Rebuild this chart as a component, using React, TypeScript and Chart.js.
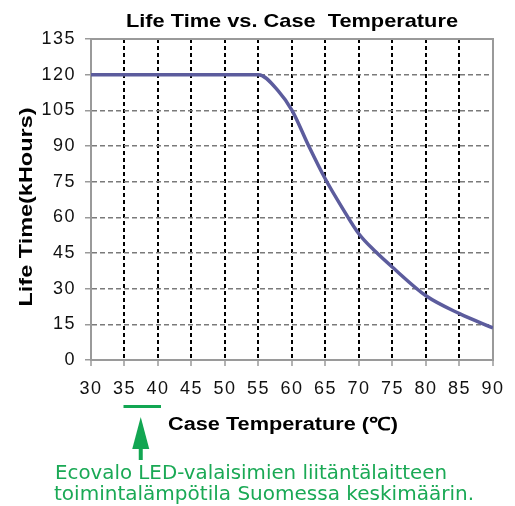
import React, { useEffect, useRef } from "react";
import { Chart, registerables } from "chart.js";

Chart.register(...registerables);

// ---- data ----
const temperatures = [30, 35, 40, 45, 50, 55, 58, 60, 62.5, 65, 67.5, 70, 72.5, 75, 80, 85, 90];
const lifeKHours = [120, 120, 120, 120, 120, 120, 113, 105, 90, 76, 64, 53, 45.5, 39, 27, 19.5, 13.5];
const xTickStep = 5;
const xRange = [30, 90];
const yTickStep = 15;
const yRange = [0, 135];
const chartTitle = "Life Time vs. Case  Temperature";
const yAxisTitle = "Life Time(kHours)";
const xAxisTitle = "Case Temperature (\u2103)";
const highlightRange = [35, 40];
const noteLines = [
  "Ecovalo LED-valaisimien liitäntälaitteen",
  "toimintalämpötila Suomessa keskimäärin.",
];

const FONT = "Liberation Sans, Arial, sans-serif";
const GREEN = "#12a652";
const TEXT_GREEN = "#1aa955";

function drawScaledText(
  ctx: CanvasRenderingContext2D,
  text: string,
  font: string,
  color: string,
  x: number,
  y: number,
  targetWidth: number,
  align: "left" | "center",
  rotate = false
) {
  ctx.save();
  ctx.font = font;
  ctx.fillStyle = color;
  ctx.textBaseline = "alphabetic";
  ctx.textAlign = "left";
  const w = ctx.measureText(text).width;
  const s = targetWidth / w;
  ctx.translate(x, y);
  if (rotate) ctx.rotate(-Math.PI / 2);
  ctx.scale(s, 1);
  const startX = align === "center" ? -w / 2 : 0;
  ctx.fillText(text, startX, 0);
  ctx.restore();
}

const decorPlugin = {
  id: "decor",
  beforeDraw(chart: any) {
    chart.ctx.letterSpacing = "1.5px";
  },
  beforeDatasetsDraw(chart: any) {
    const { ctx, chartArea } = chart;
    ctx.save();
    ctx.strokeStyle = "#9a9a9a";
    ctx.lineWidth = 2;
    ctx.strokeRect(chartArea.left, chartArea.top, chartArea.right - chartArea.left, chartArea.bottom - chartArea.top);
    ctx.restore();
  },
  afterDraw(chart: any) {
    const { ctx, chartArea } = chart;
    const xs = chart.scales.x;
    ctx.save();
    ctx.letterSpacing = "0px";
    const cx = (chartArea.left + chartArea.right) / 2;
    // title
    drawScaledText(ctx, chartTitle, `bold 19px ${FONT}`, "#000", cx, 27, 332, "center");
    // y axis title
    drawScaledText(ctx, yAxisTitle, `bold 19px ${FONT}`, "#000", 32, 207, 199, "center", true);
    // x axis title
    drawScaledText(ctx, xAxisTitle, `bold 18px ${FONT}`, "#000", 283, 429.5, 230, "center");

    // highlight bar under 35-40
    const x1 = xs.getPixelForValue(highlightRange[0]) - 1;
    const x2 = xs.getPixelForValue(highlightRange[1]) + 3;
    ctx.fillStyle = GREEN;
    ctx.fillRect(x1, 405, x2 - x1, 3);
    // arrow
    const ax = (x1 + x2) / 2 - 1.5;
    ctx.beginPath();
    ctx.moveTo(ax, 417);
    ctx.lineTo(ax + 8.5, 449);
    ctx.lineTo(ax - 8.5, 449);
    ctx.closePath();
    ctx.fill();
    ctx.fillRect(ax - 2, 448, 4, 12);

    // note text
    drawScaledText(ctx, noteLines[0], `19px 'DejaVu Sans', sans-serif`, TEXT_GREEN, 55, 478.5, 392, "left");
    drawScaledText(ctx, noteLines[1], `19px 'DejaVu Sans', sans-serif`, TEXT_GREEN, 54, 500, 420, "left");
    ctx.restore();
  },
};

function LifeChart() {
  const ref = useRef<HTMLCanvasElement | null>(null);
  useEffect(() => {
    if (!ref.current) return;
    const points = temperatures.map((t, i) => ({ x: t, y: lifeKHours[i] }));
    const chart = new Chart(ref.current, {
      type: "line",
      data: {
        datasets: [
          {
            data: points,
            borderColor: "#5c5c9d",
            borderWidth: 3.5,
            pointRadius: 0,
            fill: false,
            cubicInterpolationMode: "monotone",
          } as any,
        ],
      },
      plugins: [decorPlugin as any],
      options: {
        animation: false,
        responsive: false,
        events: [],
        layout: { padding: { left: 0, top: 39, right: 18, bottom: 106 } },
        plugins: {
          legend: { display: false },
          tooltip: { enabled: false },
          title: { display: false },
        },
        scales: {
          x: {
            type: "linear",
            min: xRange[0],
            max: xRange[1],
            afterFit: (s: any) => {
              s.height = 40;
            },
            ticks: {
              stepSize: xTickStep,
              color: "#111",
              font: { family: FONT, size: 18 },
              padding: 12,
              maxRotation: 0,
            },
            grid: {
              color: (c: any) =>
                c.tick && (c.tick.value === xRange[0] || c.tick.value === xRange[1]) ? "rgba(0,0,0,0)" : "#000",
              lineWidth: 2,
              tickLength: 6,
              tickColor: "#9a9a9a",
              tickWidth: 1.5,
            },
            border: { display: true, color: "#9a9a9a", width: 2, dash: [4, 3] },
          },
          y: {
            type: "linear",
            min: yRange[0],
            max: yRange[1],
            afterFit: (s: any) => {
              s.width = 91;
            },
            ticks: {
              stepSize: yTickStep,
              color: "#111",
              font: { family: FONT, size: 18 },
              padding: 9,
            },
            grid: {
              color: (c: any) =>
                c.tick && (c.tick.value === yRange[0] || c.tick.value === yRange[1]) ? "rgba(0,0,0,0)" : "#7a7a7a",
              lineWidth: 1.5,
              tickLength: 6,
              tickColor: "#9a9a9a",
              tickWidth: 1.5,
            },
            border: { display: true, color: "#9a9a9a", width: 2, dash: [5, 3] },
          },
        },
      } as any,
    });
    return () => chart.destroy();
  }, []);
  return <canvas ref={ref} width={515} height={506} style={{ display: "block" }} />;
}

export default function App() {
  return (
    <div style={{ position: "absolute", left: 0, top: 0, width: 515, height: 506, background: "#fff" }}>
      <LifeChart />
    </div>
  );
}
